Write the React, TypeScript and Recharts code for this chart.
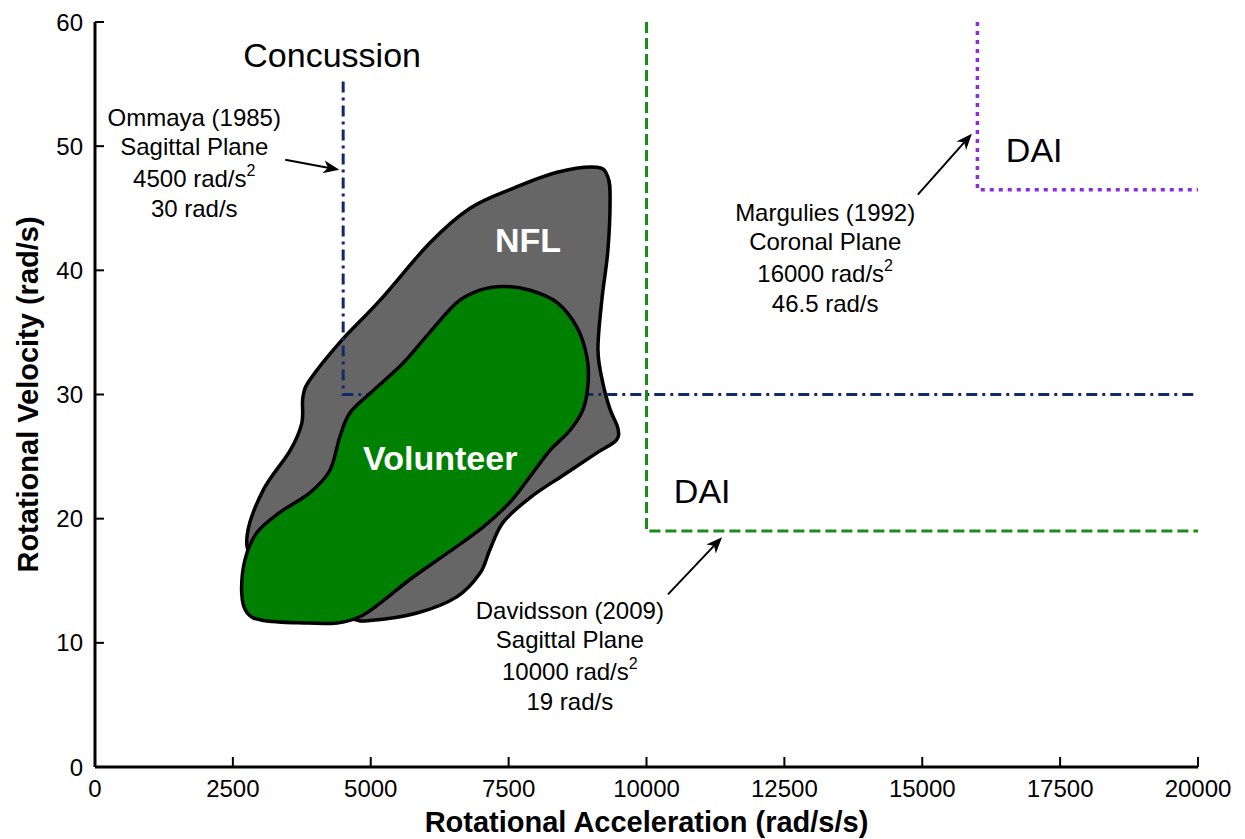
import React from 'react';
import { ScatterChart, Scatter, XAxis, YAxis } from 'recharts';

const FONT = '"Liberation Sans", Arial, sans-serif';

const xTicks = [0, 2500, 5000, 7500, 10000, 12500, 15000, 17500, 20000];
const yTicks = [0, 10, 20, 30, 40, 50, 60];

// outline of the NFL impact region (rotational acceleration, rotational velocity)
const nflOutline = [
  { x: 9100, y: 48.3 }, { x: 9300, y: 47.5 }, { x: 9340, y: 45.7 }, { x: 9300, y: 41.6 },
  { x: 9190, y: 37.6 }, { x: 9120, y: 33.6 }, { x: 9210, y: 30.9 }, { x: 9340, y: 28.8 },
  { x: 9480, y: 27.3 }, { x: 9450, y: 26.3 }, { x: 9100, y: 25.3 }, { x: 8490, y: 23.5 },
  { x: 7890, y: 21.7 }, { x: 7400, y: 19.7 }, { x: 7160, y: 17.5 }, { x: 6980, y: 15.6 },
  { x: 6560, y: 13.7 }, { x: 5840, y: 12.4 }, { x: 4990, y: 11.8 }, { x: 4620, y: 12.0 },
  { x: 3720, y: 13.5 }, { x: 2900, y: 16.7 }, { x: 2760, y: 18.7 }, { x: 3050, y: 22.3 },
  { x: 3540, y: 25.5 }, { x: 3750, y: 27.7 }, { x: 3770, y: 29.8 }, { x: 3900, y: 31.2 },
  { x: 4440, y: 34.2 }, { x: 5170, y: 37.6 }, { x: 6070, y: 42.2 }, { x: 6800, y: 45.0 },
  { x: 7580, y: 46.6 }, { x: 8380, y: 47.9 },
];

// outline of the volunteer impact region
const volunteerOutline = [
  { x: 7400, y: 38.7 }, { x: 7890, y: 38.4 }, { x: 8380, y: 37.4 }, { x: 8740, y: 35.4 },
  { x: 8920, y: 33.0 }, { x: 8940, y: 30.9 }, { x: 8850, y: 28.8 }, { x: 8610, y: 27.1 },
  { x: 8250, y: 25.5 }, { x: 7890, y: 23.4 }, { x: 7520, y: 21.3 }, { x: 7030, y: 19.3 },
  { x: 6380, y: 17.2 }, { x: 5710, y: 15.1 }, { x: 5170, y: 13.2 }, { x: 4800, y: 12.1 },
  { x: 4390, y: 11.6 }, { x: 3770, y: 11.6 }, { x: 3050, y: 11.8 }, { x: 2760, y: 12.4 },
  { x: 2660, y: 14.0 }, { x: 2720, y: 16.7 }, { x: 2940, y: 18.9 }, { x: 3350, y: 20.5 },
  { x: 3900, y: 22.1 }, { x: 4260, y: 23.9 }, { x: 4440, y: 26.6 }, { x: 4620, y: 28.5 },
  { x: 4990, y: 30.1 }, { x: 5580, y: 32.5 }, { x: 6070, y: 35.0 }, { x: 6560, y: 37.4 },
  { x: 6980, y: 38.4 },
];

// injury thresholds
const concussionLine = [{ x: 4500, y: 55.2 }, { x: 4500, y: 30 }, { x: 20000, y: 30 }];
const daiSagittalLine = [{ x: 10000, y: 60 }, { x: 10000, y: 19 }, { x: 20000, y: 19 }];
const daiCoronalLine = [{ x: 16000, y: 60 }, { x: 16000, y: 46.5 }, { x: 20000, y: 46.5 }];

// arrows: tail, head
const ommayaArrow = [{ x: 3450, y: 48.9 }, { x: 4430, y: 48.1 }];
const marguliesArrow = [{ x: 14920, y: 46.1 }, { x: 15900, y: 51.0 }];
const davidssonArrow = [{ x: 10390, y: 13.9 }, { x: 11370, y: 18.5 }];

const regionLabels = [
  { x: 4300, y: 56.4, text: 'Concussion' },
  { x: 17030, y: 48.7, text: 'DAI' },
  { x: 11010, y: 21.3, text: 'DAI' },
];

const groupLabels = [
  { x: 7850, y: 41.5, text: 'NFL' },
  { x: 6260, y: 23.9, text: 'Volunteer' },
];

const studyNotes = [
  { x: 1800, y: 51.6, author: 'Ommaya (1985)', plane: 'Sagittal Plane', accel: '4500', vel: '30' },
  { x: 13240, y: 44.0, author: 'Margulies (1992)', plane: 'Coronal Plane', accel: '16000', vel: '46.5' },
  { x: 8610, y: 11.9, author: 'Davidsson (2009)', plane: 'Sagittal Plane', accel: '10000', vel: '19' },
];

type Pt = { x: number; y: number };

// smooth closed catmull-rom path through the scaled points
function closedCurve(pts: Pt[]) {
  const n = pts.length;
  let d = `M${pts[0].x},${pts[0].y}`;
  for (let i = 0; i < n; i++) {
    const p0 = pts[(i - 1 + n) % n];
    const p1 = pts[i];
    const p2 = pts[(i + 1) % n];
    const p3 = pts[(i + 2) % n];
    const c1x = p1.x + (p2.x - p0.x) / 6;
    const c1y = p1.y + (p2.y - p0.y) / 6;
    const c2x = p2.x - (p3.x - p1.x) / 6;
    const c2y = p2.y - (p3.y - p1.y) / 6;
    d += ` C${c1x},${c1y} ${c2x},${c2y} ${p2.x},${p2.y}`;
  }
  return d + 'Z';
}

const blob = (fill: string) => (p: any) => (
  <path d={closedCurve(p.points)} fill={fill} stroke="#000" strokeWidth={3.5} strokeLinejoin="round" />
);

const arrow = (p: any) => {
  const [a, b] = p.points as Pt[];
  const ang = Math.atan2(b.y - a.y, b.x - a.x);
  const cos = Math.cos(ang);
  const sin = Math.sin(ang);
  const len = 16;
  const half = 6.5;
  const bx = b.x - len * cos;
  const by = b.y - len * sin;
  const nx = b.x - len * 0.72 * cos;
  const ny = b.y - len * 0.72 * sin;
  const head = [
    `${b.x},${b.y}`,
    `${bx - half * sin},${by + half * cos}`,
    `${nx},${ny}`,
    `${bx + half * sin},${by - half * cos}`,
  ].join(' ');
  return (
    <g>
      <line x1={a.x} y1={a.y} x2={nx} y2={ny} stroke="#000" strokeWidth={2} />
      <polygon points={head} fill="#000" />
    </g>
  );
};

const noDot = () => <g />;

// ticks point into the plot, like the original figure
const X_GAP = 12;
const Y_GAP = 12;

const XTick = (p: any) => (
  <g>
    <line x1={p.x} x2={p.x} y1={p.y - X_GAP} y2={p.y - X_GAP - 10} stroke="#000" strokeWidth={2} />
    <text x={p.x} y={p.y} dy="0.75em" textAnchor="middle" fontFamily={FONT} fontSize={24} fill="#000">
      {p.payload.value}
    </text>
  </g>
);

const YTick = (p: any) => (
  <g>
    <line x1={p.x + Y_GAP} x2={p.x + Y_GAP + 9} y1={p.y} y2={p.y} stroke="#000" strokeWidth={2} />
    <text x={p.x} y={p.y} dy="0.36em" textAnchor="end" fontFamily={FONT} fontSize={24} fill="#000">
      {p.payload.value}
    </text>
  </g>
);

const regionText = (p: any) => (
  <text x={p.cx} y={p.cy} textAnchor="middle" fontFamily={FONT} fontSize={34} fill="#000">
    {p.payload.text}
  </text>
);

const groupText = (p: any) => (
  <text x={p.cx} y={p.cy} textAnchor="middle" fontFamily={FONT} fontSize={34} fontWeight="bold" fill="#fff">
    {p.payload.text}
  </text>
);

const noteText = (p: any) => {
  const d = p.payload;
  return (
    <g fontFamily={FONT} fontSize={24} fill="#000" textAnchor="middle">
      <text x={p.cx} y={p.cy}>{d.author}</text>
      <text x={p.cx} y={p.cy + 29}>{d.plane}</text>
      <text x={p.cx} y={p.cy + 61}>
        {d.accel} rad/s<tspan dy={-11} fontSize={16}>2</tspan>
      </text>
      <text x={p.cx} y={p.cy + 91}>{d.vel} rad/s</text>
    </g>
  );
};

export default function App() {
  return (
    <div style={{ position: 'absolute', left: 0, top: 0, fontFamily: FONT, background: '#fff' }}>
      <ScatterChart width={1245} height={839} margin={{ top: 22, right: 47, bottom: 0, left: 0 }}>
        <XAxis
          type="number"
          dataKey="x"
          domain={[0, 20000]}
          ticks={xTicks}
          interval={0}
          height={72}
          tickSize={0}
          tickMargin={X_GAP}
          axisLine={{ stroke: '#000', strokeWidth: 3 }}
          tickLine={false}
          tick={<XTick />}
          label={{
            value: 'Rotational Acceleration (rad/s/s)',
            position: 'insideBottom',
            offset: 7,
            style: { fill: '#000', fontSize: 29, fontWeight: 'bold', fontFamily: FONT },
          }}
        />
        <YAxis
          type="number"
          dataKey="y"
          domain={[0, 60]}
          ticks={yTicks}
          interval={0}
          width={95}
          tickSize={0}
          tickMargin={Y_GAP}
          axisLine={{ stroke: '#000', strokeWidth: 3 }}
          tickLine={false}
          tick={<YTick />}
          label={{
            value: 'Rotational Velocity (rad/s)',
            angle: -90,
            position: 'insideLeft',
            offset: 28,
            style: { textAnchor: 'middle', fill: '#000', fontSize: 29, fontWeight: 'bold', fontFamily: FONT },
          }}
        />
        <Scatter data={nflOutline} line={blob('#666666')} shape={noDot} isAnimationActive={false} />
        <Scatter
          data={concussionLine}
          line={{ stroke: '#13296b', strokeWidth: 3, strokeDasharray: '11 5 3 5' }}
          lineJointType="linear"
          shape={noDot}
          isAnimationActive={false}
        />
        <Scatter data={volunteerOutline} line={blob('#008000')} shape={noDot} isAnimationActive={false} />
        <Scatter
          data={daiSagittalLine}
          line={{ stroke: '#178c17', strokeWidth: 3, strokeDasharray: '11 5' }}
          lineJointType="linear"
          shape={noDot}
          isAnimationActive={false}
        />
        <Scatter
          data={daiCoronalLine}
          line={{ stroke: '#8a2be2', strokeWidth: 3.5, strokeDasharray: '4 5' }}
          lineJointType="linear"
          shape={noDot}
          isAnimationActive={false}
        />
        <Scatter data={ommayaArrow} line={arrow} shape={noDot} isAnimationActive={false} />
        <Scatter data={marguliesArrow} line={arrow} shape={noDot} isAnimationActive={false} />
        <Scatter data={davidssonArrow} line={arrow} shape={noDot} isAnimationActive={false} />
        <Scatter data={regionLabels} shape={regionText} isAnimationActive={false} />
        <Scatter data={groupLabels} shape={groupText} isAnimationActive={false} />
        <Scatter data={studyNotes} shape={noteText} isAnimationActive={false} />
      </ScatterChart>
    </div>
  );
}
